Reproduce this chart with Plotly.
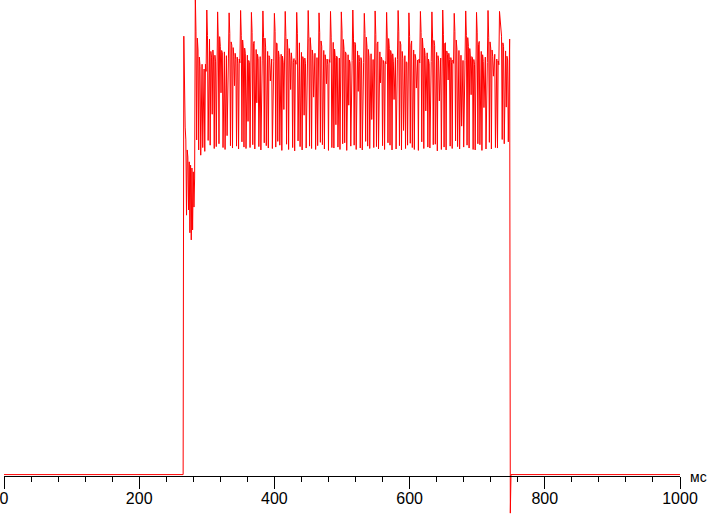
import plotly.graph_objects as go

# Time axis in ms; samples are 1 ms apart from SAMPLE_START_MS
SAMPLE_START_MS = 265
BASELINE = 0.3

# Turn-on transient (265..282 ms)
ONSET = [0.3, 92.4, 77.5, 73.3, 70.6, 54.8, 68.5, 67.0, 55.9, 66.0, 51.1,
         65.3, 49.6, 64.7, 51.7, 63.9, 56.5, 62.6]

# Steady ripple, one list per ~16.7 ms cycle (starting at the tall spike)
C01 = [101, 93.3, 70.6, 92.0, 89.5, 68.5, 88.0, 86.0, 67.4, 85.5, 86.5, 69.0, 84.0, 85.5, 68.2, 86.5, 85.0]
C02 = [97.9, 92.5, 70.5, 90.8, 91.8, 69.5, 89.2, 88.0, 76.0, 89.5, 87.6, 68.8, 88.4, 87.0, 69.2, 87.4]
C03 = [97.5, 91.6, 69.8, 92.3, 90.2, 80.5, 89.4, 88.9, 69.0, 88.0, 89.1, 68.6, 87.2, 88.3, 71.5, 86.9, 87.8]
C04 = [97.3, 93.0, 69.4, 91.2, 90.5, 68.9, 90.0, 88.2, 82.0, 88.8, 87.5, 69.3, 88.0, 86.6, 68.7, 87.6, 86.8]
C05 = [97.8, 92.6, 70.2, 91.6, 89.7, 69.1, 89.9, 88.7, 68.8, 87.9, 88.4, 74.5, 87.3, 86.9, 69.0, 87.1]
C06 = [97.4, 93.2, 69.6, 90.9, 91.3, 68.7, 89.0, 89.6, 78.4, 88.6, 87.7, 69.2, 87.5, 88.1, 68.5, 86.7, 87.2]
C07 = [97.7, 92.1, 70.0, 92.0, 90.1, 69.4, 88.5, 89.2, 68.9, 88.3, 87.9, 83.0, 87.0, 87.6, 68.8, 86.4, 87.0]
C08 = [97.2, 93.4, 69.1, 91.0, 90.8, 70.3, 89.3, 88.1, 69.5, 87.4, 88.6, 68.4, 88.2, 86.8, 77.0, 86.9]
C09 = [97.6, 92.4, 69.7, 91.8, 89.4, 68.6, 89.8, 87.8, 81.2, 88.9, 87.3, 69.0, 86.9, 87.7, 68.3, 87.3, 86.5]
C10 = [97.4, 92.9, 70.4, 90.6, 91.0, 69.2, 88.8, 89.0, 68.5, 88.1, 87.4, 75.8, 87.8, 86.6, 68.9, 86.8, 87.4]
C11 = [97.8, 91.9, 69.3, 92.1, 89.9, 68.8, 89.5, 88.4, 79.6, 87.7, 88.8, 68.6, 87.1, 87.9, 69.4, 86.6]
C12 = [97.3, 93.1, 70.1, 91.4, 90.3, 69.6, 88.6, 89.4, 68.7, 88.5, 87.2, 82.4, 87.6, 86.4, 68.4, 87.5, 86.9]
C13 = [97.6, 92.2, 69.0, 90.7, 91.1, 68.9, 89.7, 87.9, 73.8, 88.2, 88.0, 69.1, 86.8, 87.8, 68.6, 87.0]
C14 = [97.5, 93.5, 69.8, 91.7, 89.6, 70.0, 89.1, 88.8, 68.4, 87.6, 88.5, 77.9, 87.4, 86.7, 69.3, 86.5, 87.3]
C15 = [97.9, 92.0, 69.5, 91.1, 90.7, 68.6, 88.9, 89.3, 80.8, 88.4, 87.1, 68.9, 87.9, 87.2, 68.5, 86.8, 86.9]
C16 = [97.2, 93.0, 70.3, 92.2, 90.0, 69.3, 89.6, 88.0, 68.8, 87.8, 88.7, 74.9, 86.7, 87.5, 69.0, 87.2]
C17 = [97.7, 92.7, 69.2, 90.8, 91.2, 68.7, 88.7, 89.1, 82.6, 88.0, 87.6, 69.4, 87.3, 86.5, 68.6, 87.1, 86.6]
C18 = [97.4, 91.8, 70.0, 91.9, 89.8, 69.5, 89.4, 88.5, 68.5, 88.7, 87.0, 79.1, 87.7, 87.9, 68.7, 86.4, 87.5]
C19 = [97.8, 93.3, 69.4, 91.3, 90.6, 68.5, 89.2, 87.7, 72.6, 87.5, 88.3, 68.8, 87.0, 86.9, 69.5, 86.7]
C20 = [97.3, 92.3, 69.9, 90.5, 91.4, 69.0, 88.4, 89.5, 68.6, 88.6, 87.8, 81.5, 86.8, 87.4, 68.4, 87.6, 86.8]
C21 = [97.6, 93.2, 70.2, 92.0, 89.5, 68.8, 89.9, 88.3, 76.7, 87.9, 88.9, 69.1, 87.6, 86.6, 68.9, 86.9, 87.1]
C22 = [97.5, 92.0, 69.6, 91.5, 90.4, 69.7, 88.6, 89.0, 68.3, 88.3, 87.2, 78.8, 87.1, 87.8, 68.6, 86.5]
C23 = [97.9, 92.8, 69.1, 90.9, 91.0, 68.5, 89.3, 88.6, 83.2, 88.8, 87.5, 69.3, 87.9, 86.8, 68.8, 87.4, 86.7]
C24 = [97.2, 93.4, 70.4, 91.6, 89.7, 69.2, 88.9, 89.4, 68.7, 87.6, 88.4, 73.5, 86.9, 87.3, 69.1, 86.6, 87.3]
C25 = [97.7, 92.5, 69.5, 92.1, 90.2, 68.9, 89.8, 87.8, 80.1, 88.1, 87.9, 68.6, 87.5, 86.5, 68.5, 87.0]
C26 = [97.4, 93.1, 69.8, 90.7, 91.3, 69.6, 88.5, 89.2, 68.4, 88.5, 87.1, 77.4, 87.2, 88.0, 68.7, 86.8, 86.9]
C27 = [97.8, 92.2, 70.1, 91.2, 89.9, 68.7, 89.5, 88.1, 84.0, 87.7, 88.6, 69.0, 86.6, 87.6, 68.9, 87.2, 86.4]
C28 = [97.6, 96.0, 93.0, 92.4, 70.7, 91.0, 90.2, 69.8, 88.9, 89.3, 77.5, 88.2, 87.4, 70.2, 88.0, 91.8]

# Turn-off: undershoot then back to baseline
OFFSET = [-7.8, 0.3]

CYCLES = [C01, C02, C03, C04, C05, C06, C07, C08, C09, C10, C11, C12, C13, C14,
          C15, C16, C17, C18, C19, C20, C21, C22, C23, C24, C25, C26, C27, C28]

X_TICK_VALUES = [0, 200, 400, 600, 800, 1000]
X_TICK_LABELS = ["0", "200", "400", "600", "800", "1000"]
UNIT_LABEL = "мс"

signal = list(ONSET)
for c in CYCLES:
    signal.extend(c)
signal.extend(OFFSET)

times = [0] + [SAMPLE_START_MS + i for i in range(len(signal))] + [1000]
values = [BASELINE] + signal + [BASELINE]

fig = go.Figure()
fig.add_trace(go.Scatter(x=times, y=values, mode="lines",
                         line=dict(color="#ff0000", width=1.0),
                         hoverinfo="skip", showlegend=False))

Y_MIN, Y_MAX = -8.19, 100
fig.update_layout(
    width=707, height=515,
    margin=dict(l=4, r=27, t=0, b=0, autoexpand=False),
    paper_bgcolor="white", plot_bgcolor="white",
    showlegend=False,
    xaxis=dict(
        range=[0, 1000], anchor="free", position=(-Y_MIN) / (Y_MAX - Y_MIN),
        automargin=False, ticklabeloverflow="allow",
        showline=True, linecolor="black", linewidth=1,
        showgrid=False, zeroline=False,
        tickmode="array", tickvals=X_TICK_VALUES, ticktext=X_TICK_LABELS,
        ticks="outside", ticklen=12, tickcolor="black", tickwidth=1,
        ticklabelstandoff=-4,
        tickfont=dict(family="Arial, Liberation Sans, sans-serif", size=16, color="black"),
        minor=dict(dtick=40, tick0=0, ticks="outside", ticklen=5,
                   tickcolor="black", tickwidth=1, showgrid=False),
    ),
    yaxis=dict(range=[Y_MIN, Y_MAX], visible=False, showgrid=False, zeroline=False,
               automargin=False),
    annotations=[dict(text=UNIT_LABEL, xref="paper", yref="y", x=1.0, y=0,
                      xanchor="left", yanchor="middle", xshift=8, yshift=-1,
                      showarrow=False,
                      font=dict(family="Arial, Liberation Sans, sans-serif", size=14, color="black"))],
)

fig.write_html("out.html", config={"displayModeBar": False},
               post_script="document.body.style.margin='0';document.body.style.overflow='hidden';")
